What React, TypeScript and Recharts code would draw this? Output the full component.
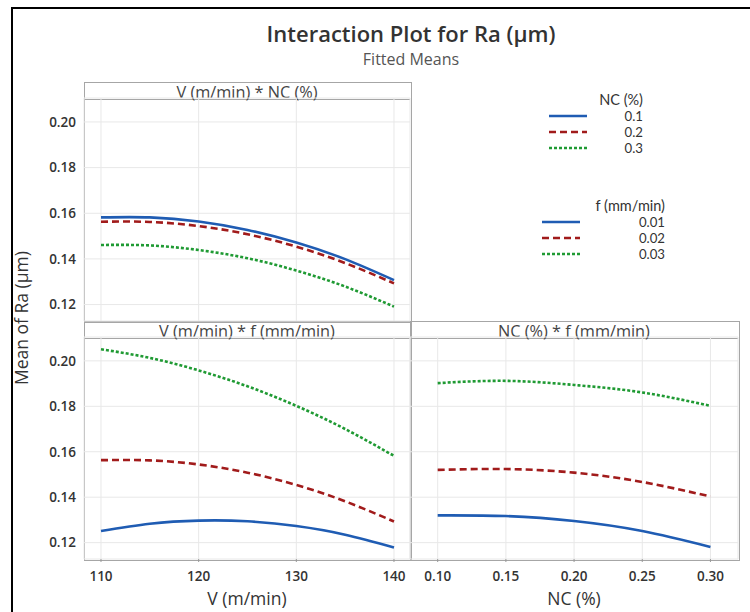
import React from 'react';
import { LineChart, Line, XAxis, YAxis, CartesianGrid } from 'recharts';

// factor levels
const vLevels = [110, 115, 120, 125, 130, 135, 140];
const ncLevels = [0.1, 0.15, 0.2, 0.25, 0.3];
const ncNames = ['0.1', '0.2', '0.3'];
const fNames = ['0.01', '0.02', '0.03'];

// V (m/min) * NC (%)
const vNc01 = [0.1582, 0.1582, 0.1564, 0.1527, 0.1472, 0.1399, 0.1307];
const vNc02 = [0.1563, 0.1562, 0.1544, 0.1508, 0.1454, 0.1382, 0.1293];
const vNc03 = [0.1461, 0.1459, 0.1439, 0.1403, 0.1349, 0.1279, 0.1191];

// V (m/min) * f (mm/min)
const vF001 = [0.1251, 0.1283, 0.1297, 0.1294, 0.1273, 0.1235, 0.1179];
const vF002 = [0.1563, 0.1562, 0.1544, 0.1508, 0.1454, 0.1382, 0.1293];
const vF003 = [0.2051, 0.2013, 0.1958, 0.1888, 0.1802, 0.17, 0.1582];

// NC (%) * f (mm/min)
const ncF001 = [0.132, 0.1317, 0.1295, 0.1251, 0.1181];
const ncF002 = [0.152, 0.1524, 0.1508, 0.1467, 0.1403];
const ncF003 = [0.1902, 0.1912, 0.1894, 0.1861, 0.1802];

const yTicks = [0.12, 0.14, 0.16, 0.18, 0.2];
const vTicks = [110, 120, 130, 140];
const ncTicks = [0.1, 0.15, 0.2, 0.25, 0.3];

const yDomain = [0.1128, 0.2105];
const vDomain = [108.26, 141.64];
const ncDomain = [0.0797, 0.3202];

const styles = [
  { color: '#1f5cb3', dash: undefined },
  { color: '#a11b1b', dash: '7 4' },
  { color: '#1f9a33', dash: '3 2' },
];

const FONT = "'Open Sans', 'Noto Sans', sans-serif";
const LEG_FONT = "Lato, 'Open Sans', sans-serif";
const GRID = '#e8e8e8';
const FRAME = '#a6a6a6';

const makeRows = (xs: number[], a: number[], b: number[], c: number[]) =>
  xs.map((x, i) => ({ x, s0: a[i], s1: b[i], s2: c[i] }));

interface PanelProps {
  rows: any[];
  xDomain: number[];
  xTicks: number[];
  x0: number;
  x1: number;
  y0: number;
  y1: number;
  showX: boolean;
  showY: boolean;
  xFmt: (v: number) => string;
}

const tickStyle = { fill: '#333', fontSize: 13.5, fontWeight: 600, fontFamily: FONT };

const Panel: React.FC<PanelProps> = ({ rows, xDomain, xTicks, x0, x1, y0, y1, showX, showY, xFmt }) => {
  const yW = 60;
  const xH = 30;
  const margin = {
    top: y0,
    left: showY ? x0 - yW : x0,
    right: 750 - x1,
    bottom: showX ? 612 - y1 - xH : 612 - y1,
  };
  return (
    <div style={{ position: 'absolute', left: 0, top: 0 }}>
      <LineChart width={750} height={612} data={rows} margin={margin}>
        <CartesianGrid stroke={GRID} strokeWidth={1} />
        <XAxis
          type="number"
          dataKey="x"
          domain={xDomain}
          ticks={xTicks}
          hide={!showX}
          height={xH}
          axisLine={false}
          tickLine={{ stroke: '#999' }}
          tickSize={3}
          tickMargin={9}
          tickFormatter={xFmt}
          tick={tickStyle}
          allowDataOverflow
        />
        <YAxis
          type="number"
          domain={yDomain}
          ticks={yTicks}
          hide={!showY}
          width={yW}
          axisLine={false}
          tickLine={false}
          tickSize={0}
          tickMargin={8}
          tickFormatter={(v: number) => v.toFixed(2)}
          tick={tickStyle}
          allowDataOverflow
        />
        {styles.map((s, i) => (
          <Line
            key={i}
            type="natural"
            dataKey={'s' + i}
            stroke={s.color}
            strokeWidth={2.6}
            strokeDasharray={s.dash}
            dot={false}
            activeDot={false}
            isAnimationActive={false}
          />
        ))}
      </LineChart>
    </div>
  );
};

const Frame: React.FC<{ x0: number; x1: number; top: number; bottom: number; title: string }> = ({ x0, x1, top, bottom, title }) => (
  <>
    <div style={{ position: 'absolute', left: x0, top, width: x1 - x0 - 1, height: bottom - top - 1, border: `1px solid ${FRAME}` }} />
    <div
      style={{
        position: 'absolute', left: x0, top, width: x1 - x0 - 1, height: 15, borderBottom: `1px solid ${FRAME}`,
        borderTop: `1px solid ${FRAME}`, textAlign: 'center', fontSize: 16.3, lineHeight: '17px', paddingTop: 1,
        boxSizing: 'content-box', color: '#444', fontFamily: FONT, whiteSpace: 'nowrap',
      }}
    >
      {title}
    </div>
  </>
);

const LegendBlock: React.FC<{ top: number; lineX0: number; lineX1: number; right: number; title: string; names: string[] }> = ({ top, lineX0, lineX1, right, title, names }) => (
  <svg style={{ position: 'absolute', left: 0, top: 0 }} width={750} height={612}>
    <text x={right} y={top - 1} textAnchor="end" dominantBaseline="central" fontSize={14.5} fill="#333" fontFamily={LEG_FONT}>{title}</text>
    {names.map((n, i) => {
      const y = top + 15.5 + i * 16;
      return (
        <g key={n}>
          <line x1={lineX0} x2={lineX1} y1={y} y2={y} stroke={styles[i].color} strokeWidth={2.6} strokeDasharray={styles[i].dash} />
          <text x={right} y={y} textAnchor="end" dominantBaseline="central" fontSize={13.2} fill="#333" fontFamily={LEG_FONT}>{n}</text>
        </g>
      );
    })}
  </svg>
);

const App: React.FC = () => {
  const top = makeRows(vLevels, vNc01, vNc02, vNc03);
  const botL = makeRows(vLevels, vF001, vF002, vF003);
  const botR = makeRows(ncLevels, ncF001, ncF002, ncF003);

  return (
    <div style={{ position: 'absolute', left: 0, top: 0, width: 750, height: 612, background: '#fff', overflow: 'hidden', fontFamily: FONT }}>
      <div style={{ position: 'absolute', left: 11, top: 7, width: 800, height: 700, borderLeft: '2.5px solid #000', borderTop: '2px solid #000' }} />

      <div style={{ position: 'absolute', left: 211, top: 19.5, width: 400, textAlign: 'center', fontSize: 22, lineHeight: '26px', color: '#333', fontWeight: 600, whiteSpace: 'nowrap' }}>
        Interaction Plot for Ra (µm)
      </div>
      <div style={{ position: 'absolute', left: 211, top: 47.5, width: 400, textAlign: 'center', fontSize: 16, lineHeight: '22px', color: '#555' }}>
        Fitted Means
      </div>

      <Frame x0={84} x1={411} top={82} bottom={322} title="V (m/min) * NC (%)" />
      <Frame x0={84} x1={411} top={321} bottom={560} title="V (m/min) * f (mm/min)" />
      <Frame x0={410} x1={739} top={321} bottom={560} title="NC (%) * f (mm/min)" />

      <Panel rows={top} xDomain={vDomain} xTicks={vTicks} x0={84} x1={410} y0={98} y1={321} showX={false} showY xFmt={(v) => String(v)} />
      <Panel rows={botL} xDomain={vDomain} xTicks={vTicks} x0={84} x1={410} y0={337} y1={559} showX showY xFmt={(v) => String(v)} />
      <Panel rows={botR} xDomain={ncDomain} xTicks={ncTicks} x0={410} x1={738} y0={337} y1={559} showX showY={false} xFmt={(v) => v.toFixed(2)} />

      <LegendBlock top={100.5} lineX0={549} lineX1={587} right={643} title="NC (%)" names={ncNames} />
      <LegendBlock top={206.5} lineX0={542} lineX1={580} right={665} title="f (mm/min)" names={fNames} />

      <div style={{ position: 'absolute', left: 147, top: 586, width: 200, textAlign: 'center', fontSize: 17.5, lineHeight: '24px', color: '#333' }}>
        V (m/min)
      </div>
      <div style={{ position: 'absolute', left: 474, top: 586, width: 200, textAlign: 'center', fontSize: 17.5, lineHeight: '24px', color: '#333' }}>
        NC (%)
      </div>
      <div
        style={{
          position: 'absolute', left: 21 - 100, top: 318 - 12, width: 200, textAlign: 'center', fontSize: 17.5, lineHeight: '24px',
          color: '#333', transform: 'rotate(-90deg)',
        }}
      >
        Mean of Ra (µm)
      </div>
    </div>
  );
};

export default App;
